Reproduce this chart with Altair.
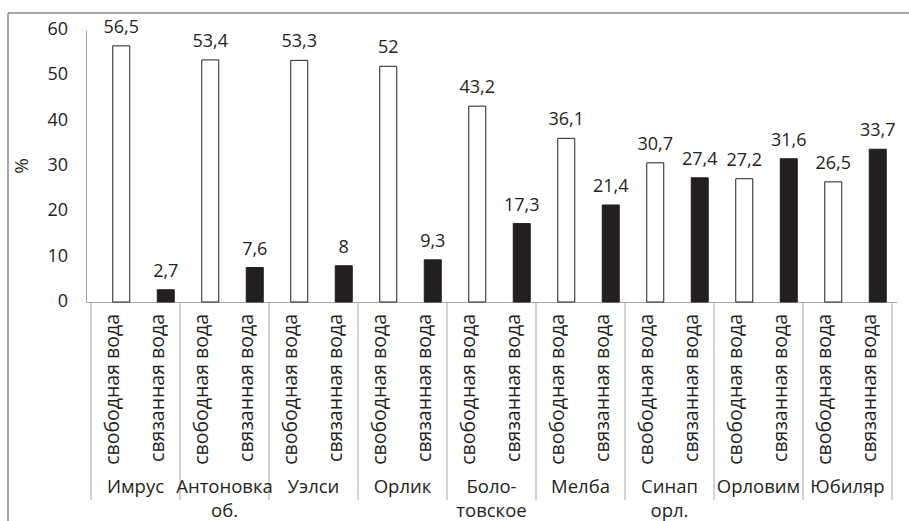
import altair as alt
import pandas as pd

# Apple varieties (two-line names split with "\n")
varieties = ["Имрус", "Антоновка\nоб.", "Уэлси", "Орлик", "Боло-\nтовское",
             "Мелба", "Синап\nорл.", "Орловим", "Юбиляр"]
# Water fractions, %
free_water = [56.5, 53.4, 53.3, 52.0, 43.2, 36.1, 30.7, 27.2, 26.5]
bound_water = [2.7, 7.6, 8.0, 9.3, 17.3, 21.4, 27.4, 31.6, 33.7]
kinds = ["свободная вода", "связанная вода"]
y_ticks = [0, 10, 20, 30, 40, 50, 60]

FONT = "Open Sans"
INK = "#231f20"
AXIS_GREY = "#a6a6a6"
FRAME_GREY = "#8a8a8a"


def fmt(v):
    return f"{v:g}".replace(".", ",")


rows = []
for i, name in enumerate(varieties):
    for j, (kind, val) in enumerate(zip(kinds, [free_water[i], bound_water[i]])):
        rows.append({"slot": 2 * i + j, "kind": kind, "value": val,
                     "label": fmt(val), "variety": name})
bars_df = pd.DataFrame(rows)

groups_df = pd.DataFrame({"center": [2 * i + 0.5 for i in range(len(varieties))],
                          "variety": varieties})
bounds_df = pd.DataFrame({"edge": [2 * i - 0.5 for i in range(len(varieties) + 1)]})
ticks_df = pd.DataFrame({"tick": y_ticks, "text": [str(t) for t in y_ticks]})

x_scale = alt.Scale(domain=[-0.5, 2 * len(varieties) - 0.5], nice=False, zero=False)
y_scale = alt.Scale(domain=[0, 60], nice=False)

x_axis = alt.Axis(labels=False, ticks=False, title=None, grid=False,
                  domainColor=AXIS_GREY, domainWidth=1)
y_axis = alt.Axis(labels=False, ticks=False, title=None, grid=False,
                  domainColor=AXIS_GREY, domainWidth=1)

bars = alt.Chart(bars_df).mark_bar(width=17, stroke=INK, strokeWidth=1, xOffset=8).encode(
    x=alt.X("slot:Q", scale=x_scale, axis=x_axis),
    y=alt.Y("value:Q", scale=y_scale, axis=y_axis),
    fill=alt.Fill("kind:N", scale=alt.Scale(domain=kinds, range=["#ffffff", INK]),
                  legend=None),
)

values = alt.Chart(bars_df).mark_text(font=FONT, fontSize=18, color=INK,
                                      baseline="alphabetic", dy=-13, dx=8).encode(
    x=alt.X("slot:Q", scale=x_scale),
    y=alt.Y("value:Q", scale=y_scale),
    text="label:N",
)

# y tick labels
tick_labels = alt.Chart(ticks_df).mark_text(font=FONT, fontSize=18, color=INK,
                                            align="right", baseline="middle").encode(
    x=alt.value(-18),
    y=alt.Y("tick:Q", scale=y_scale),
    text="text:N",
)

one = pd.DataFrame({"k": [0]})
y_title = alt.Chart(one).mark_text(font=FONT, fontSize=19, color=INK, angle=270,
                                   align="center", baseline="middle", text="%").encode(
    x=alt.value(-64), y=alt.value(136))

kind_labels = alt.Chart(bars_df).mark_text(font=FONT, fontSize=19.5, color=INK, angle=270,
                                           align="right", baseline="middle").encode(
    x=alt.X("slot:Q", scale=x_scale),
    y=alt.value(284),
    text="kind:N",
)

variety_labels = alt.Chart(groups_df).mark_text(font=FONT, fontSize=18.5, color=INK,
                                                baseline="alphabetic", lineBreak="\n",
                                                lineHeight=24).encode(
    x=alt.X("center:Q", scale=x_scale),
    y=alt.value(463),
    text="variety:N",
)

separators = alt.Chart(bounds_df).mark_rule(color=AXIS_GREY, strokeWidth=1).encode(
    x=alt.X("edge:Q", scale=x_scale),
    y=alt.value(272),
    y2=alt.value(470),
)

frame_top = alt.Chart(one).mark_rule(color=FRAME_GREY, strokeWidth=1.5).encode(
    x=alt.value(-78), x2=alt.value(830), y=alt.value(-17))
frame_left = alt.Chart(one).mark_rule(color=FRAME_GREY, strokeWidth=1.5).encode(
    x=alt.value(-78), y=alt.value(-17), y2=alt.value(500))

chart = alt.layer(
    frame_top, frame_left, separators, bars, values, tick_labels, y_title,
    kind_labels, variety_labels
).properties(
    width=811, height=272,
    autosize=alt.AutoSizeParams(type="none"),
    padding={"left": 86, "top": 30, "right": 12, "bottom": 219},
    background="white",
).configure_view(stroke=None)

chart.save("out.html", embed_options={"renderer": "svg", "actions": False})
